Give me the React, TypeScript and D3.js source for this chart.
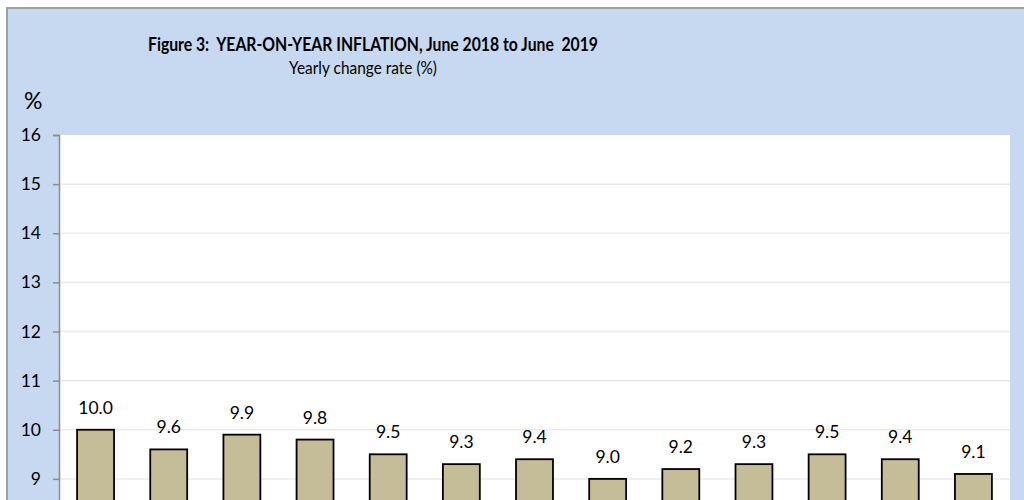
import React, { useEffect, useRef } from "react";
import * as d3 from "d3";

const months = [
  "Jun-18", "Jul-18", "Aug-18", "Sep-18", "Oct-18", "Nov-18", "Dec-18",
  "Jan-19", "Feb-19", "Mar-19", "Apr-19", "May-19", "Jun-19",
];
const inflation = [10.0, 9.6, 9.9, 9.8, 9.5, 9.3, 9.4, 9.0, 9.2, 9.3, 9.5, 9.4, 9.1];
const yTicks = [9, 10, 11, 12, 13, 14, 15, 16];

const FONT = "Lato, 'Open Sans', sans-serif";

export default function App() {
  const ref = useRef<SVGSVGElement>(null);

  useEffect(() => {
    const svg = d3.select(ref.current);
    svg.selectAll("*").remove();

    const width = 1024;
    const height = 960;
    const plot = { left: 59, right: 1010, top: 135, bottom: 921 };

    // chart background + border
    svg
      .append("rect")
      .attr("x", 7)
      .attr("y", 8)
      .attr("width", width)
      .attr("height", height)
      .attr("fill", "#c6d9f1")
      .attr("stroke", "#a0a0a0")
      .attr("stroke-width", 2);

    svg
      .append("rect")
      .attr("x", plot.left)
      .attr("y", plot.top)
      .attr("width", plot.right - plot.left)
      .attr("height", plot.bottom - plot.top)
      .attr("fill", "#ffffff");

    const x = d3
      .scaleBand()
      .domain(months)
      .range([plot.left, plot.right])
      .paddingInner(0.495)
      .paddingOuter(0.2475);

    const y = d3.scaleLinear().domain([0, 16]).range([plot.bottom, plot.top]);

    // gridlines
    svg
      .append("g")
      .selectAll("line")
      .data(yTicks.filter((t) => t < 16))
      .join("line")
      .attr("x1", plot.left)
      .attr("x2", plot.right)
      .attr("y1", (d) => y(d))
      .attr("y2", (d) => y(d))
      .attr("stroke", "#ebebeb")
      .attr("stroke-width", 1.5);

    // y axis
    const yAxis = svg
      .append("g")
      .attr("transform", `translate(${plot.left},0)`)
      .call(d3.axisLeft(y).tickValues(yTicks).tickSize(6).tickPadding(12).tickFormat(d3.format("d")));
    yAxis.select(".domain").attr("stroke", "#8c8c8c").attr("stroke-width", 1.5);
    yAxis.selectAll(".tick line").attr("stroke", "#8c8c8c").attr("stroke-width", 1.5);
    yAxis
      .selectAll(".tick text")
      .attr("fill", "#000")
      .attr("font-family", FONT)
      .attr("font-size", 17.5);

    // bars
    svg
      .append("g")
      .selectAll("rect")
      .data(inflation)
      .join("rect")
      .attr("x", (_, i) => x(months[i]) as number)
      .attr("y", (d) => y(d))
      .attr("width", x.bandwidth())
      .attr("height", (d) => y(0) - y(d))
      .attr("fill", "#c4bd97")
      .attr("stroke", "#000")
      .attr("stroke-width", 1.8);

    // value labels
    svg
      .append("g")
      .selectAll("text")
      .data(inflation)
      .join("text")
      .attr("x", (_, i) => (x(months[i]) as number) + x.bandwidth() / 2)
      .attr("y", (d) => y(d) - 16)
      .attr("text-anchor", "middle")
      .attr("font-family", FONT)
      .attr("font-size", 17.5)
      .attr("fill", "#000")
      .text((d) => d.toFixed(1));

    // titles
    svg
      .append("text")
      .attr("x", 148)
      .attr("y", 51)
      .attr("font-family", FONT)
      .attr("font-weight", "bold")
      .attr("font-size", 18.5)
      .attr("textLength", 450)
      .attr("lengthAdjust", "spacingAndGlyphs")
      .style("white-space", "pre")
      .text("Figure 3:  YEAR-ON-YEAR INFLATION, June 2018 to June  2019");

    svg
      .append("text")
      .attr("x", 289)
      .attr("y", 74)
      .attr("font-family", FONT)
      .attr("font-size", 17.5)
      .attr("textLength", 148)
      .attr("lengthAdjust", "spacingAndGlyphs")
      .text("Yearly change rate (%)");

    svg
      .append("text")
      .attr("x", 24)
      .attr("y", 109)
      .attr("font-family", FONT)
      .attr("font-size", 23)
      .text("%");
  }, []);

  return (
    <div style={{ position: "fixed", left: 0, top: 0, width: 1024, height: 500, overflow: "hidden" }}>
      <svg ref={ref} width={1024} height={960} style={{ display: "block" }} />
    </div>
  );
}
